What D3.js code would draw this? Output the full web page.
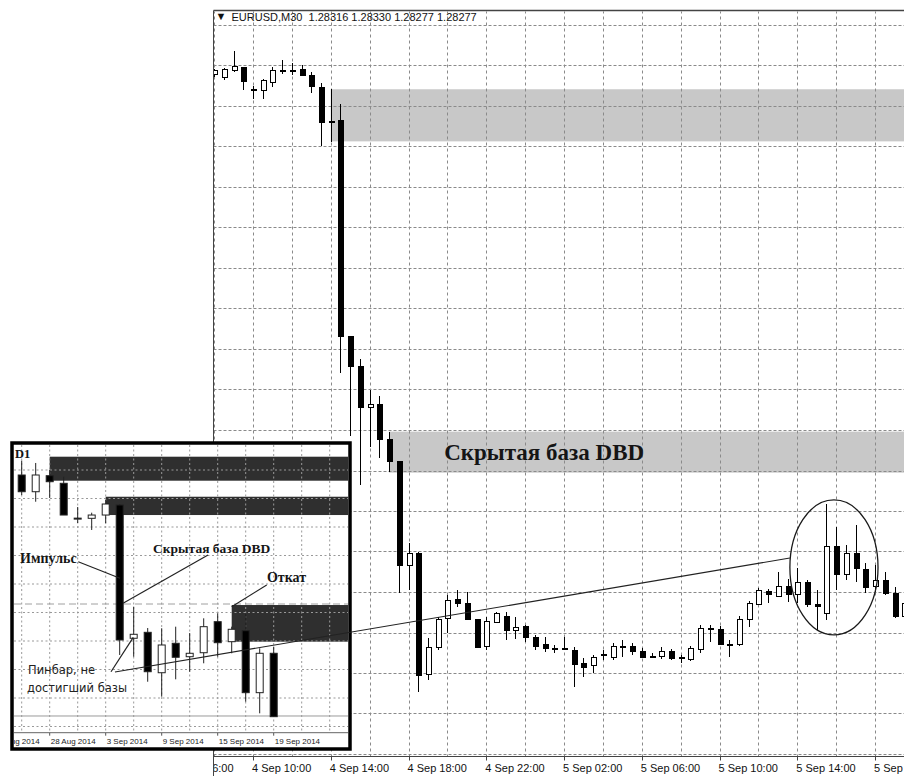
<!DOCTYPE html>
<html>
<head>
<meta charset="utf-8">
<title>EURUSD M30</title>
<script src="https://cdn.jsdelivr.net/npm/d3@7"></script>
<style>
  body { margin: 0; background: #fff; }
  svg { display: block; }
  .mt { font-family: "Liberation Sans", Arial, sans-serif; font-size: 11px; fill: #111; }
  .note { font-family: "Liberation Serif", "Times New Roman", serif; font-weight: bold; fill: #151515; }
  .small { font-family: "Liberation Sans", Arial, sans-serif; font-size: 8px; fill: #222; }
  .pin { font-family: "DejaVu Sans", sans-serif; font-size: 11.5px; fill: #222; }
</style>
</head>
<body>
<svg id="chart" width="904" height="776"></svg>
<script>
console.log("drawing EURUSD charts")

// ---- EURUSD M30, bars from 4 Sep 2014 08:00 (30 min each) ----
const m30Start = Date.UTC(2014, 8, 4, 8, 0)
const m30Open = [1.31515,1.31506,1.31531,1.31542,1.31461,1.31459,1.31486,1.31531,1.31533,1.31536,
  1.31514,1.31469,1.31344,1.31346,1.30546,1.30437,1.30283,1.30293,1.30166,1.30083,
  1.29697,1.29741,1.29293,1.29395,1.29503,1.29574,1.29558,1.29499,1.29397,1.29488,
  1.29511,1.29457,1.29474,1.29431,1.29407,1.29390,1.29390,1.29385,1.29336,1.29326,
  1.29366,1.29358,1.29399,1.29400,1.29379,1.29360,1.29360,1.29381,1.29356,1.29351,
  1.29388,1.29464,1.29462,1.29407,1.29407,1.29499,1.29554,1.29601,1.29585,1.29620,
  1.29589,1.29634,1.29552,1.29521,1.29770,1.29666,1.29741,1.29684,1.29622,1.29644,
  1.29593,1.29509]
const m30High = [1.31537,1.31541,1.31605,1.31544,1.31474,1.31501,1.31546,1.31570,1.31558,1.31552,
  1.31527,1.31485,1.31462,1.31407,1.30548,1.30462,1.30348,1.30326,1.30194,1.30083,
  1.29780,1.29748,1.29431,1.29507,1.29589,1.29607,1.29601,1.29500,1.29509,1.29527,
  1.29527,1.29506,1.29478,1.29441,1.29434,1.29404,1.29434,1.29395,1.29354,1.29367,
  1.29385,1.29410,1.29422,1.29410,1.29393,1.29373,1.29395,1.29389,1.29367,1.29400,
  1.29478,1.29478,1.29474,1.29422,1.29511,1.29568,1.29614,1.29610,1.29675,1.29647,
  1.29688,1.29644,1.29607,1.29926,1.29842,1.29774,1.29848,1.29706,1.29700,1.29675,
  1.29620,1.29570]
const m30Low = [1.31507,1.31496,1.31526,1.31459,1.31426,1.31425,1.31469,1.31519,1.31515,1.31511,
  1.31449,1.31252,1.31268,1.30410,1.30178,1.29996,1.30138,1.30095,1.30046,1.29595,
  1.29607,1.29231,1.29274,1.29385,1.29447,1.29546,1.29496,1.29393,1.29385,1.29484,
  1.29422,1.29426,1.29416,1.29385,1.29379,1.29373,1.29385,1.29249,1.29284,1.29299,
  1.29348,1.29348,1.29360,1.29367,1.29356,1.29358,1.29351,1.29348,1.29336,1.29346,
  1.29373,1.29416,1.29404,1.29360,1.29400,1.29469,1.29552,1.29558,1.29580,1.29564,
  1.29558,1.29546,1.29459,1.29496,1.29607,1.29644,1.29638,1.29595,1.29601,1.29589,
  1.29503,1.29496]
const m30Close = [1.31530,1.31536,1.31546,1.31490,1.31459,1.31494,1.31533,1.31533,1.31531,1.31514,
  1.31474,1.31340,1.31342,1.30546,1.30437,1.30283,1.30293,1.30166,1.30083,1.29700,
  1.29743,1.29289,1.29395,1.29500,1.29570,1.29558,1.29499,1.29395,1.29490,1.29519,
  1.29459,1.29469,1.29431,1.29397,1.29391,1.29389,1.29389,1.29332,1.29321,1.29358,
  1.29367,1.29397,1.29400,1.29381,1.29358,1.29359,1.29381,1.29354,1.29354,1.29391,
  1.29466,1.29466,1.29407,1.29406,1.29499,1.29558,1.29604,1.29589,1.29620,1.29589,
  1.29634,1.29552,1.29546,1.29770,1.29666,1.29743,1.29688,1.29617,1.29644,1.29595,
  1.29511,1.29559]

// time labels on the bottom axis
const m30Ticks = ["2014-09-04T06:00:00Z","2014-09-04T10:00:00Z","2014-09-04T14:00:00Z",
  "2014-09-04T18:00:00Z","2014-09-04T22:00:00Z","2014-09-05T02:00:00Z","2014-09-05T06:00:00Z",
  "2014-09-05T10:00:00Z","2014-09-05T14:00:00Z","2014-09-05T18:00:00Z"]

// grey supply zones
const zoneFrom = ["2014-09-04T14:00:00Z", "2014-09-04T17:00:00Z"]
const zoneLow = [1.31269, 1.30042]
const zoneHigh = [1.31462, 1.30194]

// ---- EURUSD D1 inset ----
const d1Dates = ["26 Aug","27 Aug","28 Aug","29 Aug","1 Sep","2 Sep","3 Sep","4 Sep","5 Sep","8 Sep",
  "9 Sep","10 Sep","11 Sep","12 Sep","15 Sep","16 Sep","17 Sep","18 Sep","19 Sep"]
const d1Open = [1.31721,1.31457,1.31710,1.31590,1.31037,1.31037,1.31089,1.31247,1.29143,1.29237,
  1.28599,1.29064,1.28852,1.28915,1.29405,1.29089,1.29263,1.28284,1.28906]
const d1High = [1.31947,1.31911,1.31800,1.31694,1.31216,1.31126,1.31326,1.31263,1.29642,1.29305,
  1.29301,1.29326,1.29226,1.29458,1.29537,1.29326,1.29542,1.28985,1.29010]
const d1Low = [1.31405,1.31299,1.31358,1.31089,1.30963,1.30853,1.30958,1.28879,1.28852,1.28457,
  1.28221,1.28495,1.28615,1.28748,1.28852,1.28906,1.28142,1.27958,1.27905]
const d1Close = [1.31457,1.31721,1.31615,1.31089,1.31040,1.31089,1.31263,1.29116,1.29206,1.28615,
  1.29037,1.28843,1.28906,1.29326,1.29073,1.29285,1.28284,1.28906,1.27905]
const d1TickIdx = [-2, 2, 6, 10, 14, 18]
const d1TickText = ["22 Aug 2014","28 Aug 2014","3 Sep 2014","9 Sep 2014","15 Sep 2014","19 Sep 2014"]
const d1ZoneFrom = [2, 6, 15]
const d1ZoneLow = [1.31631, 1.31089, 1.29089]
const d1ZoneHigh = [1.32010, 1.31378, 1.29668]

// inset annotations (bar index, price)
const d1Notes = [
  {text: "D1", i: -0.48, p: 1.31985, cls: "note", size: 12.5},
  {text: "Импульс", i: -0.12, p: 1.30332, cls: "note", size: 14},
  {text: "Скрытая база DBD", i: 9.38, p: 1.30497, cls: "note", size: 13.5},
  {text: "Откат", i: 17.52, p: 1.30024, cls: "note", size: 14},
  {text: "Пинбар, не", i: 0.45, p: 1.28579, cls: "pin", size: 11.5},
  {text: "достигший базы", i: 0.38, p: 1.28295, cls: "pin", size: 11.5}
]
const d1Pointers = [
  [4.04, 1.30352, 7.02, 1.30090],
  [13.31, 1.30458, 7.24, 1.29695],
  [17.5, 1.29984, 15.0, 1.29642],
  [6.38, 1.28615, 7.97, 1.29158]
]

const svg = d3.select("#chart")
const defs = svg.append("defs")

// ================= main chart =================
const bars = m30Open.map((o, i) => ({
  t: new Date(m30Start + i * 30 * 60 * 1000),
  o: o, h: m30High[i], l: m30Low[i], c: m30Close[i]
}))

const x = d3.scaleUtc()
  .domain([new Date("2014-09-04T10:00:00Z"), new Date("2014-09-05T18:00:00Z")])
  .range([253, 875.1])
const y = d3.scaleLinear().domain([1.2900, 1.3170]).range([754, 25])

const pL = 213.5, pR = 904, pT = 10.5, pB = 756.5

defs.append("clipPath").attr("id", "mainClip")
  .append("rect").attr("x", pL + 0.5).attr("y", pT + 1)
  .attr("width", pR - pL).attr("height", pB - pT - 1)
defs.append("clipPath").attr("id", "axisClip")
  .append("rect").attr("x", pL + 0.5).attr("y", pB)
  .attr("width", pR - pL).attr("height", 30)

const main = svg.append("g").attr("clip-path", "url(#mainClip)")

main.selectAll("rect.zone")
  .data(zoneFrom)
  .enter()
  .append("rect")
  .attr("class", "zone")
  .attr("x", d => x(new Date(d)))
  .attr("width", d => pR - x(new Date(d)))
  .attr("y", (d, i) => y(zoneHigh[i]))
  .attr("height", (d, i) => y(zoneLow[i]) - y(zoneHigh[i]))
  .attr("fill", "#c8c8c8")

// dotted grid
const priceGrid = d3.range(0, 19).map(j => 1.2900 + j * 0.0015)
const timeGrid = d3.utcHour.every(2).range(new Date("2014-09-04T08:00:00Z"), new Date("2014-09-05T21:00:00Z"))

main.selectAll("line.hgrid")
  .data(priceGrid)
  .enter()
  .append("line")
  .attr("x1", pL).attr("x2", pR)
  .attr("y1", d => Math.round(y(d)) + 0.5).attr("y2", d => Math.round(y(d)) + 0.5)
  .attr("stroke", "#8a8a8a").attr("stroke-dasharray", "3,2")

main.selectAll("line.vgrid")
  .data(timeGrid)
  .enter()
  .append("line")
  .attr("x1", d => Math.round(x(d)) + 0.5).attr("x2", d => Math.round(x(d)) + 0.5)
  .attr("y1", pT).attr("y2", pB)
  .attr("stroke", "#8a8a8a").attr("stroke-dasharray", "3,3")

// candles
const candles = main.selectAll("g.bar")
  .data(bars)
  .enter()
  .append("g")
  .attr("shape-rendering", "crispEdges")

candles.append("line")
  .attr("x1", d => Math.round(x(d.t)) + 0.5).attr("x2", d => Math.round(x(d.t)) + 0.5)
  .attr("y1", d => y(d.h)).attr("y2", d => y(d.l))
  .attr("stroke", "#000")

candles.append("rect")
  .attr("x", d => Math.round(x(d.t)) - 2)
  .attr("width", 5)
  .attr("y", d => y(Math.max(d.o, d.c)))
  .attr("height", d => Math.max(1, Math.abs(y(d.o) - y(d.c))))
  .attr("fill", d => d.c > d.o ? "#fff" : "#000")
  .attr("stroke", "#000").attr("stroke-width", 1)

// big label on the second zone
main.append("text")
  .attr("class", "note")
  .attr("font-size", 23)
  .attr("x", x(new Date("2014-09-04T19:50:00Z")))
  .attr("y", y(1.30089))
  .text("Скрытая база DBD")

// frame, title, time axis
svg.append("line").attr("x1", pL).attr("x2", pR).attr("y1", pT).attr("y2", pT)
  .attr("stroke", "#444").attr("stroke-width", 1.6)
svg.append("line").attr("x1", pL).attr("x2", pL).attr("y1", pT).attr("y2", 776)
  .attr("stroke", "#444")
svg.append("line").attr("x1", pL).attr("x2", pR).attr("y1", pB).attr("y2", pB)
  .attr("stroke", "#444")

svg.append("text").attr("class", "mt").attr("x", 215.5).attr("y", 20)
  .attr("font-size", 8).text("▼")
svg.append("text").attr("class", "mt").attr("x", 231.5).attr("y", 20.5)
  .style("white-space", "pre")
  .text("EURUSD,M30  1.28316 1.28330 1.28277 1.28277")

const axis = svg.append("g").attr("clip-path", "url(#axisClip)")
const tickDates = m30Ticks.map(s => new Date(s))
axis.selectAll("line.tick")
  .data(tickDates)
  .enter()
  .append("line")
  .attr("x1", d => Math.round(x(d)) + 0.5).attr("x2", d => Math.round(x(d)) + 0.5)
  .attr("y1", pB).attr("y2", pB + 4)
  .attr("stroke", "#444")
axis.selectAll("text.tick")
  .data(tickDates)
  .enter()
  .append("text")
  .attr("class", "mt")
  .attr("x", d => x(d) - 1)
  .attr("y", pB + 15.5)
  .text(d => d3.utcFormat("%-d %b %H:%M")(d))

// ================= D1 inset =================
const xi = d3.scaleLinear().domain([0, 18]).range([21.7, 273.7])
const yi = d3.scaleLinear().domain([1.2775, 1.3180]).range([726.5, 470])
const inL = 14, inR = 348, inT = 445, inB = 732.7

const inset = svg.append("g")
inset.append("rect").attr("x", 12).attr("y", 443).attr("width", 338).attr("height", 306)
  .attr("fill", "#fff")

defs.append("clipPath").attr("id", "insetClip")
  .append("rect").attr("x", inL).attr("y", inT).attr("width", inR - inL).attr("height", inB - inT)
defs.append("clipPath").attr("id", "insetAxisClip")
  .append("rect").attr("x", inL).attr("y", inB).attr("width", inR - inL).attr("height", 14)

const ip = inset.append("g").attr("clip-path", "url(#insetClip)")

ip.selectAll("rect.dzone")
  .data(d1ZoneFrom)
  .enter()
  .append("rect")
  .attr("x", d => xi(d))
  .attr("width", d => inR - xi(d))
  .attr("y", (d, i) => yi(d1ZoneHigh[i]))
  .attr("height", (d, i) => yi(d1ZoneLow[i]) - yi(d1ZoneHigh[i]))
  .attr("fill", "#2f2f2f")

ip.selectAll("line.dh")
  .data(d3.range(0, 10).map(j => 1.2775 + j * 0.0045))
  .enter()
  .append("line")
  .attr("x1", inL).attr("x2", inR)
  .attr("y1", d => yi(d)).attr("y2", d => yi(d))
  .attr("stroke", "#999").attr("stroke-dasharray", "2,2.5")
ip.selectAll("line.dv")
  .data(d3.range(0, 23, 2))
  .enter()
  .append("line")
  .attr("x1", d => xi(d)).attr("x2", d => xi(d))
  .attr("y1", inT).attr("y2", inB)
  .attr("stroke", "#999").attr("stroke-dasharray", "2,2.5")

// horizontal levels: dashed retest level and bid line
ip.append("line").attr("x1", inL).attr("x2", inR)
  .attr("y1", yi(1.29684)).attr("y2", yi(1.29684))
  .attr("stroke", "#a0a0a0").attr("stroke-dasharray", "7,4")
ip.append("line").attr("x1", inL).attr("x2", inR)
  .attr("y1", yi(1.27916)).attr("y2", yi(1.27916))
  .attr("stroke", "#9a9a9a")

const dCandles = ip.selectAll("g.dbar")
  .data(d1Dates)
  .enter()
  .append("g")
dCandles.append("line")
  .attr("x1", (d, i) => xi(i)).attr("x2", (d, i) => xi(i))
  .attr("y1", (d, i) => yi(d1High[i])).attr("y2", (d, i) => yi(d1Low[i]))
  .attr("stroke", "#222")
dCandles.append("rect")
  .attr("x", (d, i) => xi(i) - 3.5)
  .attr("width", 7)
  .attr("y", (d, i) => yi(Math.max(d1Open[i], d1Close[i])))
  .attr("height", (d, i) => Math.max(1, Math.abs(yi(d1Open[i]) - yi(d1Close[i]))))
  .attr("fill", (d, i) => d1Close[i] > d1Open[i] ? "#fff" : "#000")
  .attr("stroke", "#222").attr("stroke-width", 1)

// inset time axis
inset.append("line").attr("x1", inL).attr("x2", inR).attr("y1", inB).attr("y2", inB)
  .attr("stroke", "#666")
const ia = inset.append("g").attr("clip-path", "url(#insetAxisClip)")
ia.selectAll("line")
  .data(d1TickIdx)
  .enter()
  .append("line")
  .attr("x1", d => xi(d)).attr("x2", d => xi(d))
  .attr("y1", inB).attr("y2", inB + 3)
  .attr("stroke", "#555")
ia.selectAll("text")
  .data(d1TickIdx)
  .enter()
  .append("text")
  .attr("class", "small")
  .attr("x", d => xi(d) + 1)
  .attr("y", inB + 11)
  .text((d, i) => d1TickText[i])

// pointers and labels
inset.selectAll("line.ptr")
  .data(d1Pointers)
  .enter()
  .append("line")
  .attr("x1", d => xi(d[0])).attr("y1", d => yi(d[1]))
  .attr("x2", d => xi(d[2])).attr("y2", d => yi(d[3]))
  .attr("stroke", "#222").attr("stroke-width", 1.2)

inset.selectAll("text.lbl")
  .data(d1Notes)
  .enter()
  .append("text")
  .attr("class", d => d.cls)
  .attr("font-size", d => d.size)
  .attr("x", d => xi(d.i))
  .attr("y", d => yi(d.p))
  .text(d => d.text)

inset.append("rect").attr("x", 12).attr("y", 443).attr("width", 338).attr("height", 306)
  .attr("fill", "none").attr("stroke", "#000").attr("stroke-width", 3.5)

// ================= link from the pinbar to the NFP reaction =================
const linkFrom = [xi(6.66), yi(1.28611)]
const linkTo = [x(new Date("2014-09-05T13:37:00Z")), y(1.29726)]
svg.append("line")
  .attr("x1", linkFrom[0]).attr("y1", linkFrom[1])
  .attr("x2", linkTo[0]).attr("y2", linkTo[1])
  .attr("stroke", "#222").attr("stroke-width", 1.1)

const ovalL = x(new Date("2014-09-05T13:37:00Z")), ovalR = x(new Date("2014-09-05T18:09:00Z"))
const ovalT = y(1.29941), ovalB = y(1.29441)
svg.append("ellipse")
  .attr("cx", (ovalL + ovalR) / 2).attr("cy", (ovalT + ovalB) / 2)
  .attr("rx", (ovalR - ovalL) / 2).attr("ry", (ovalB - ovalT) / 2)
  .attr("fill", "none").attr("stroke", "#1a1a1a").attr("stroke-width", 1.3)
</script>
</body>
</html>
